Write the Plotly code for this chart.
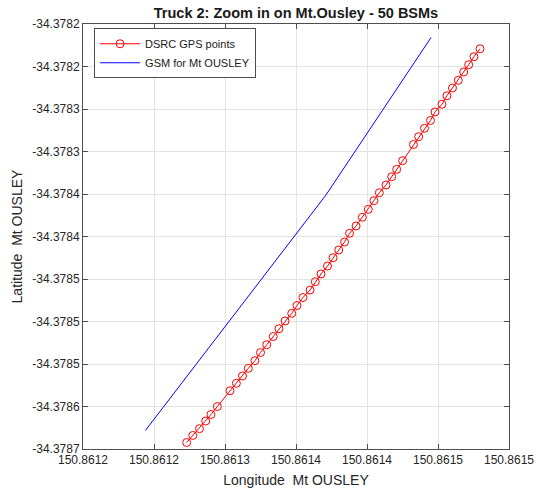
import plotly.graph_objects as go

# DSRC GPS points (longitude, latitude)
dsrc_lon = [150.8612730, 150.8612773, 150.8612820, 150.8612864, 150.8612901, 150.8612946,
            150.8613035, 150.8613080, 150.8613123, 150.8613164, 150.8613211, 150.8613250,
            150.8613294, 150.8613340, 150.8613380, 150.8613423, 150.8613470, 150.8613507,
            150.8613549, 150.8613599, 150.8613636, 150.8613676, 150.8613722, 150.8613761,
            150.8613801, 150.8613842, 150.8613877, 150.8613923, 150.8613967, 150.8614009,
            150.8614049, 150.8614087, 150.8614134, 150.8614174, 150.8614209, 150.8614251,
            150.8614327, 150.8614364, 150.8614405, 150.8614447, 150.8614479, 150.8614528,
            150.8614563, 150.8614602, 150.8614643, 150.8614681, 150.8614716, 150.8614753,
            150.8614796]
dsrc_lat = [-34.3786924, -34.3786841, -34.3786761, -34.3786671, -34.3786594, -34.3786500,
            -34.3786314, -34.3786227, -34.3786141, -34.3786051, -34.3785961, -34.3785865,
            -34.3785773, -34.3785677, -34.3785585, -34.3785494, -34.3785404, -34.3785312,
            -34.3785218, -34.3785130, -34.3785032, -34.3784941, -34.3784847, -34.3784750,
            -34.3784659, -34.3784565, -34.3784462, -34.3784377, -34.3784274, -34.3784180,
            -34.3784079, -34.3783985, -34.3783894, -34.3783797, -34.3783710, -34.3783608,
            -34.3783418, -34.3783326, -34.3783227, -34.3783135, -34.3783035, -34.3782944,
            -34.3782845, -34.3782753, -34.3782662, -34.3782565, -34.3782479, -34.3782385,
            -34.3782291]

# GSM line for Mt OUSLEY
gsm_lon = [150.8612439, 150.8613711, 150.8614451]
gsm_lat = [-34.3786783, -34.3784012, -34.3782159]

# Axis ticks
x_tickvals = [150.86120, 150.86125, 150.86130, 150.86135, 150.86140, 150.86145, 150.86150]
x_ticktext = ["150.8612", "150.8612", "150.8613", "150.8614", "150.8614", "150.8615", "150.8615"]
y_tickvals = [-34.37820, -34.37825, -34.37830, -34.37835, -34.37840, -34.37845,
              -34.37850, -34.37855, -34.37860, -34.37865, -34.37870]
y_ticktext = ["-34.3782", "-34.3782", "-34.3783", "-34.3783", "-34.3784", "-34.3784",
              "-34.3785", "-34.3785", "-34.3785", "-34.3786", "-34.3787"]

FONT = "Liberation Sans, Arial, Helvetica, sans-serif"
AX = "#4d4d4d"

fig = go.Figure()
fig.add_trace(go.Scatter(
    x=dsrc_lon, y=dsrc_lat, mode="lines+markers", name="DSRC GPS points",
    line=dict(color="red", width=1),
    marker=dict(symbol="circle-open", size=8, color="red", line=dict(width=1, color="red")),
))
fig.add_trace(go.Scatter(
    x=gsm_lon, y=gsm_lat, mode="lines", name="GSM for Mt OUSLEY",
    line=dict(color="blue", width=1),
))

axis_common = dict(
    showgrid=True, gridcolor="#e3e3e3", gridwidth=1,
    showline=True, linecolor=AX, linewidth=1, mirror="allticks",
    ticks="inside", ticklen=5, tickcolor=AX, tickwidth=1,
    zeroline=False, tickfont=dict(family=FONT, size=12, color="#262626"),
    tickmode="array", automargin=False,
)

fig.update_layout(
    width=535, height=489,
    margin=dict(l=83, r=26, t=24, b=40),
    paper_bgcolor="white", plot_bgcolor="white",
    title=dict(text="<b>Truck 2: Zoom in on Mt.Ousley - 50 BSMs</b>",
               x=(83 + 509) / 2 / 535, xanchor="center", y=1 - 13 / 489, yanchor="middle",
               font=dict(family=FONT, size=14.5, color="#1a1a1a")),
    xaxis=dict(range=[150.86120, 150.86150], tickvals=x_tickvals, ticktext=x_ticktext,
               title=dict(text="Longitude  Mt OUSLEY", standoff=8,
                          font=dict(family=FONT, size=14, color="#262626")),
               **axis_common),
    yaxis=dict(range=[-34.37870, -34.37820], tickvals=y_tickvals, ticktext=y_ticktext,
               title=dict(text="Latitude  Mt OUSLEY", standoff=6,
                          font=dict(family=FONT, size=14, color="#262626")),
               **axis_common),
    legend=dict(x=0.026, y=0.99, xanchor="left", yanchor="top",
                bgcolor="white", bordercolor=AX, borderwidth=1,
                font=dict(family=FONT, size=11, color="#1a1a1a"),
                tracegroupgap=0, itemwidth=40),
    showlegend=True,
)

fig.write_html("out.html")
